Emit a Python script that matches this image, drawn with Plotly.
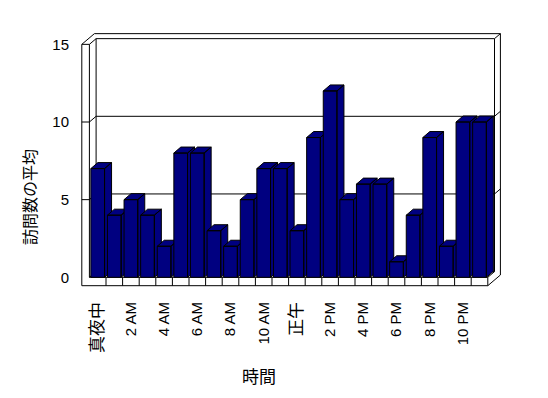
import plotly.graph_objects as go

# ---- data ----
hours = list(range(24))
avg_visits = [7, 4, 5, 4, 2, 8, 8, 3, 2, 5, 7, 7, 3, 9, 12, 5, 6, 6, 1, 4, 9, 2, 10, 10]
tick_positions = [0, 2, 4, 6, 8, 10, 12, 14, 16, 18, 20, 22]
tick_labels = ["真夜中", "2 AM", "4 AM", "6 AM", "8 AM", "10 AM", "正午",
               "2 PM", "4 PM", "6 PM", "8 PM", "10 PM"]
y_ticks = [0, 5, 10, 15]
y_title = "訪問数の平均"
x_title = "時間"

# ---- geometry (page pixels -> data units) ----
PAGE_OFF = 8                            # default body margin of the html page
W, H = 548 - PAGE_OFF, 398 - PAGE_OFF
L, R, T, B = 78, 505, 30, 288          # plot area in page pixels
SX, SY = 16.6, 15.53                    # px per category / px per unit value
X0PX, Y0PX = 97.7, 277.3                # page pixel of category 0 / value 0
x_range = [(L - X0PX) / SX, (R - X0PX) / SX]
y_range = [(Y0PX - B) / SY, (Y0PX - T) / SY]

VMAX = y_ticks[-1]
DX, DY = 6.7 / SX, 5.7 / SY            # chart depth
TX, TY = 5.9 / SX, 5.0 / SY            # back wall thickness
LW = 7.6 / SX                          # left wall thickness
FT = 8.4 / SY                          # floor thickness
BW = 13.7 / SX                         # bar width
BDX, BDY = 7.0 / SX, 6.0 / SY          # bar depth
XA, XB = hours[0] - 0.5, hours[-1] + 0.5

BAR_COLOR = "#000080"
FONT = "Liberation Sans, Arial, Noto Sans CJK JP, sans-serif"
CJK_FONT = "Noto Sans CJK JP"

fig = go.Figure()

# ---- 3D bars: side, top, front per bar ----
for h, v in zip(hours, avg_visits):
    xl, xr = h - BW / 2, h + BW / 2
    xs = [xr, xr + BDX, xr + BDX, xr, xr, None,
          xl, xl + BDX, xr + BDX, xr, xl, None,
          xl, xr, xr, xl, xl]
    ys = [0, BDY, v + BDY, v, 0, None,
          v, v + BDY, v + BDY, v, v, None,
          0, 0, v, v, 0]
    fig.add_trace(go.Scatter(
        x=xs, y=ys, mode="lines", fill="toself", fillcolor=BAR_COLOR,
        line=dict(color="black", width=1), hoverinfo="skip", showlegend=False,
    ))

# ---- walls & floor ----
segs = []
def seg(x1, y1, x2, y2):
    segs.append((x1, y1, x2, y2))

OX = XA - LW
# outer outline
seg(OX, VMAX, OX, -FT)
seg(OX, -FT, XB, -FT)
seg(XB, -FT, XB + DX + TX, -FT + DY + TY)
seg(XB + DX + TX, -FT + DY + TY, XB + DX + TX, VMAX + DY + TY)
seg(XB + DX + TX, VMAX + DY + TY, OX + DX + TX, VMAX + DY + TY)
seg(OX + DX + TX, VMAX + DY + TY, OX, VMAX)
# left wall front face / floor front face
seg(OX, VMAX, XA, VMAX)
seg(XA, VMAX, XA, 0)
seg(XA, 0, XB, 0)
seg(XB, 0, XB, -FT)
# inner box
seg(XA, VMAX, XA + DX, VMAX + DY)
seg(XA + DX, VMAX + DY, XB + DX, VMAX + DY)
seg(XB + DX, VMAX + DY, XB + DX + TX, VMAX + DY + TY)
seg(XA + DX, VMAX + DY, XA + DX, DY)
seg(XB + DX, VMAX + DY, XB + DX, DY)
seg(XA + DX, DY, XB + DX, DY)
seg(XA, 0, XA + DX, DY)
seg(XB, 0, XB + DX, DY)
# gridlines
for g in y_ticks[1:-1]:
    seg(OX, g, XA, g)
    seg(XA, g, XA + DX, g + DY)
    seg(XA + DX, g + DY, XB + DX, g + DY)
    seg(XB + DX, g + DY, XB + DX + TX, g + DY + TY)
# floor category ticks
for h in hours[:-1]:
    seg(h + 0.5, 0, h + 0.5, -FT)

shapes = [dict(type="line", xref="x", yref="y", x0=a, y0=b, x1=c, y1=d,
               line=dict(color="black", width=1), layer="below")
          for a, b, c, d in segs]

def px_to_paper(px, py):
    return (px - L) / (R - L), (B - py) / (B - T)

def styled(label):
    # CJK labels render larger in the original
    if any(ord(c) > 0x2E80 for c in label):
        return ('<span style="font-size:17px;font-family:%s;fill:black;color:black">%s</span>'
                % (CJK_FONT, label))
    return label

xt = px_to_paper(259, 377)
yt = px_to_paper(30, 197)

fig.update_layout(
    width=W, height=H, autosize=False,
    margin=dict(l=L - PAGE_OFF, r=W - (R - PAGE_OFF), t=T - PAGE_OFF,
                b=H - (B - PAGE_OFF), pad=0),
    paper_bgcolor="white", plot_bgcolor="white",
    font=dict(family=FONT, color="black"),
    showlegend=False,
    shapes=shapes,
    xaxis=dict(range=x_range, tickmode="array", tickvals=tick_positions,
               ticktext=[styled(t) for t in tick_labels], tickangle=-90, ticks="",
               showgrid=False, zeroline=False, showline=False,
               tickfont=dict(size=15, family=FONT, color="black"), ticklabelstandoff=10,
               fixedrange=True),
    yaxis=dict(range=y_range, tickmode="array", tickvals=y_ticks,
               ticks="", showgrid=False, zeroline=False, showline=False,
               tickfont=dict(size=15, family=FONT, color="black"), ticklabelstandoff=8,
               fixedrange=True),
    annotations=[
        dict(text=x_title, x=xt[0], y=xt[1], xref="paper", yref="paper",
             xanchor="center", yanchor="middle", showarrow=False,
             font=dict(size=17, family=FONT, color="black")),
        dict(text=y_title, x=yt[0], y=yt[1], xref="paper", yref="paper",
             xanchor="center", yanchor="middle", showarrow=False, textangle=-90,
             font=dict(size=16, family=FONT, color="black")),
    ],
)

fig.write_html("out.html")
